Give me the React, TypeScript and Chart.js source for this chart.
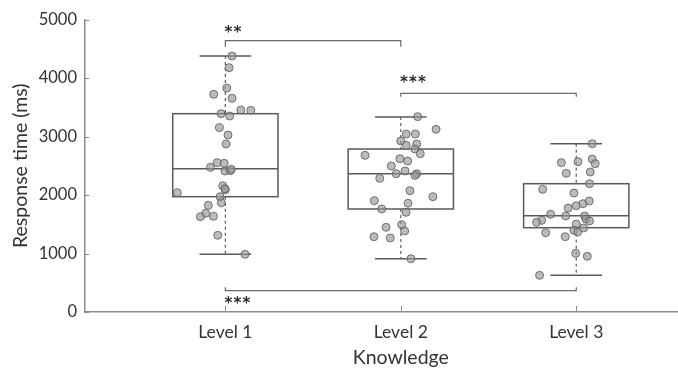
import React, { useEffect, useRef } from 'react';
import { Chart, registerables } from 'chart.js';

Chart.register(...registerables);

// ---- data ----
const levels = ['Level 1', 'Level 2', 'Level 3'];
const levelPositions = [1, 2, 3];
const yTicks = [0, 1000, 2000, 3000, 4000, 5000];
const xTitle = 'Knowledge';
const yTitle = 'Response time (ms)';

const q1 = [1971, 1761, 1441];
const median = [2450, 2364, 1646];
const q3 = [3390, 2786, 2193];
const whiskerLow = [986, 911, 627];
const whiskerHigh = [4376, 3333, 2877];

const level1Values = [4376, 4177, 3829, 3721, 3653, 3453, 3448, 3390, 3350, 3151, 3026, 2872, 2553, 2541, 2473, 2410, 2416, 2439, 2159, 2091, 2108, 2039, 1971, 1868, 1824, 1687, 1629, 1636, 1311, 986];
const level1Jitter = [0.038, 0.021, 0.008, -0.066, 0.038, 0.088, 0.145, -0.025, 0.025, -0.034, 0.015, 0.004, -0.047, -0.007, -0.085, -0.002, 0.028, 0.034, -0.015, 0.0, -0.003, -0.274, -0.03, -0.023, -0.097, -0.112, -0.142, -0.068, -0.043, 0.112];

const level2Values = [3339, 3123, 3043, 3043, 2923, 2849, 2872, 2786, 2706, 2678, 2621, 2581, 2496, 2410, 2364, 2364, 2336, 2285, 2074, 1971, 1903, 1858, 1761, 1704, 1492, 1448, 1385, 1287, 1265, 911];
const level2Jitter = [0.096, 0.201, 0.031, 0.083, 0.0, 0.031, 0.091, 0.081, 0.111, -0.204, -0.005, 0.039, -0.054, 0.024, -0.026, 0.091, 0.081, -0.12, 0.052, 0.183, -0.151, 0.041, -0.109, 0.03, 0.005, -0.084, 0.022, -0.153, -0.06, 0.058];

const level3Values = [2877, 2553, 2569, 2615, 2535, 2371, 2393, 2193, 2097, 2034, 1778, 1817, 1851, 1897, 1670, 1641, 1641, 1590, 1556, 1567, 1533, 1504, 1397, 1368, 1436, 1356, 1287, 1003, 952, 627];
const level3Jitter = [0.091, -0.085, 0.01, 0.091, 0.108, -0.057, 0.08, 0.076, -0.191, -0.013, -0.046, 0, 0.038, 0.074, -0.146, -0.06, 0.048, 0.055, 0.076, -0.197, -0.226, 0, -0.013, 0.008, 0.042, -0.174, -0.063, -0.003, 0.063, -0.209];

const bracketFrom = [1, 2, 1];
const bracketTo = [2, 3, 3];
const bracketValue = [4638, 3738, 364];
const bracketLabel = ['**', '***', '***'];
const bracketLabelValue = [4815, 3966, 188];

const allValues = [level1Values, level2Values, level3Values];
const allJitter = [level1Jitter, level2Jitter, level3Jitter];

const FONT = 'Lato, "Open Sans", sans-serif';
const TEXT = '#333333';
const AXIS = '#8c8c8c';
const BOX = '#5a5a5a';

const boxPlugin = {
  id: 'boxPlot',
  beforeDatasetsDraw(chart: any) {
    const { ctx } = chart;
    const x = chart.scales.x;
    const y = chart.scales.y;
    const line = (x0: number, y0: number, x1: number, y1: number) => {
      ctx.beginPath();
      ctx.moveTo(x0, y0);
      ctx.lineTo(x1, y1);
      ctx.stroke();
    };
    ctx.save();
    // inside tick marks
    ctx.strokeStyle = AXIS;
    ctx.lineWidth = 1;
    const left = chart.chartArea.left;
    const bottom = chart.chartArea.bottom;
    yTicks.forEach((v) => {
      const py = Math.round(y.getPixelForValue(v)) + 0.5;
      line(left, py, left + 4, py);
    });
    levelPositions.forEach((p) => {
      const px = Math.round(x.getPixelForValue(p)) + 0.5;
      line(px, bottom, px, bottom - 6);
    });

    levelPositions.forEach((p, i) => {
      const cx = x.getPixelForValue(p);
      const bx0 = x.getPixelForValue(p - 0.3);
      const bx1 = x.getPixelForValue(p + 0.3);
      const c0 = x.getPixelForValue(p - 0.147);
      const c1 = x.getPixelForValue(p + 0.147);
      const yq1 = y.getPixelForValue(q1[i]);
      const yq3 = y.getPixelForValue(q3[i]);
      const ymed = y.getPixelForValue(median[i]);
      const ylo = y.getPixelForValue(whiskerLow[i]);
      const yhi = y.getPixelForValue(whiskerHigh[i]);
      ctx.strokeStyle = BOX;
      ctx.lineWidth = 1.2;
      ctx.setLineDash([3, 3]);
      line(cx, yhi, cx, yq3);
      line(cx, yq1, cx, ylo);
      ctx.setLineDash([]);
      ctx.lineWidth = 1.5;
      line(c0, yhi, c1, yhi);
      line(c0, ylo, c1, ylo);
      ctx.strokeRect(bx0, yq3, bx1 - bx0, yq1 - yq3);
      line(bx0, ymed, bx1, ymed);
    });

    // significance brackets
    ctx.strokeStyle = '#6a6a6a';
    ctx.lineWidth = 1.2;
    ctx.fillStyle = '#2a2a2a';
    ctx.font = 'bold 15px "DejaVu Sans", sans-serif';
    ctx.textAlign = 'center';
    ctx.textBaseline = 'middle';
    bracketFrom.forEach((f, i) => {
      const x0 = x.getPixelForValue(f);
      const x1 = x.getPixelForValue(bracketTo[i]);
      const by = y.getPixelForValue(bracketValue[i]);
      const dir = bracketLabelValue[i] > bracketValue[i] ? 1 : -1;
      const tl = i === 0 ? 6 : 3.5;
      ctx.beginPath();
      ctx.moveTo(x0, by + dir * tl);
      ctx.lineTo(x0, by);
      ctx.lineTo(x1, by);
      ctx.lineTo(x1, by + dir * tl);
      ctx.stroke();
      const ly = y.getPixelForValue(bracketLabelValue[i]);
      bracketLabel[i].split('').forEach((ch, k) => {
        ctx.fillText(ch, x0 + 3 + k * 9, ly + 3);
      });
    });

    // x-axis title, centred under the middle category
    ctx.fillStyle = TEXT;
    ctx.font = `19.5px ${FONT}`;
    ctx.textAlign = 'center';
    ctx.textBaseline = 'middle';
    ctx.fillText(xTitle, x.getPixelForValue(levelPositions[1]), chart.height - 11.7);
    ctx.restore();
  },
};

export default function App() {
  const ref = useRef<HTMLCanvasElement>(null);
  useEffect(() => {
    if (!ref.current) return;
    const datasets = levelPositions.map((p, i) => ({
      label: levels[i],
      data: allValues[i].map((v, k) => ({ x: p + allJitter[i][k], y: v })),
      backgroundColor: 'rgba(150,150,150,0.65)',
      borderColor: 'rgba(95,95,95,0.85)',
      borderWidth: 1,
      pointRadius: 4,
    }));
    const chart = new Chart(ref.current, {
      type: 'scatter',
      data: { datasets },
      options: {
        animation: false,
        responsive: false,
        layout: { autoPadding: false, padding: { top: 19.5, left: 0, right: 0, bottom: 0 } },
        plugins: { legend: { display: false }, tooltip: { enabled: false } },
        scales: {
          x: {
            type: 'linear',
            min: 0.2,
            max: 3.58,
            afterBuildTicks: (s: any) => {
              s.ticks = levelPositions.map((v) => ({ value: v }));
            },
            afterFit: (s: any) => {
              s.height = 57;
              s.paddingLeft = 0;
              s.paddingRight = 0;
            },
            grid: { display: false, drawTicks: false },
            border: { display: true, color: AXIS, width: 1.5 },
            ticks: {
              padding: 10,
              color: TEXT,
              font: { family: FONT, size: 17.5 },
              callback: (v: any) => levels[levelPositions.indexOf(Number(v))] ?? '',
            },
            title: { display: false },
          },
          y: {
            min: 0,
            max: 5000,
            afterBuildTicks: (s: any) => {
              s.ticks = yTicks.map((v) => ({ value: v }));
            },
            afterFit: (s: any) => {
              s.width = 85;
            },
            grid: { display: false, drawTicks: false },
            border: { display: true, color: AXIS, width: 1.5 },
            ticks: {
              padding: 8,
              color: TEXT,
              font: { family: FONT, size: 16.5 },
              callback: (v: any) => String(v),
            },
            title: {
              display: true,
              text: yTitle,
              color: TEXT,
              font: { family: FONT, size: 19.5 },
              padding: { top: 9.5, bottom: 0 },
            },
          },
        },
      },
      plugins: [boxPlugin],
    });
    return () => chart.destroy();
  }, []);
  return (
    <div style={{ position: 'absolute', left: 0, top: 0, width: 678, height: 369, background: '#fff' }}>
      <canvas ref={ref} width={678} height={369} />
    </div>
  );
}
